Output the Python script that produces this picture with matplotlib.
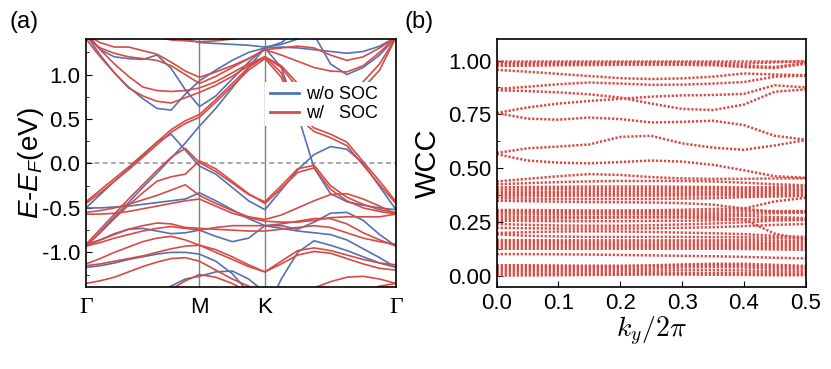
import matplotlib
matplotlib.use("Agg")
import matplotlib.pyplot as plt
from matplotlib.lines import Line2D
from matplotlib.ticker import MultipleLocator

plt.rcParams["font.family"] = ["Liberation Sans", "DejaVu Sans"]
plt.rcParams["mathtext.fontset"] = "custom"
plt.rcParams["mathtext.rm"] = "Liberation Sans"
plt.rcParams["mathtext.it"] = "Liberation Sans:italic"
plt.rcParams["axes.unicode_minus"] = False

# ---- (a) band structure, energies read along the path Γ-M-K-Γ ----
k_path = [0.0, 0.125, 0.25, 0.375, 0.5, 0.625, 0.75, 0.875, 1.0,
          1.144, 1.289, 1.433, 1.577,
          1.721, 1.866, 2.010, 2.155, 2.299, 2.443, 2.588, 2.732]
k_nodes = [0.0, 1.0, 1.577, 2.732]
k_labels = ["Γ", "M", "K", "Γ"]

bands_nosoc = [
    [-0.50, -0.35, -0.20, -0.06, 0.09, 0.24, 0.33, 0.15, -0.03, -0.12, -0.27, -0.42, -0.52, -0.30, -0.07, 0.10, 0.19, 0.16, 0.00, -0.26, -0.52],
    [-0.93, -0.77, -0.60, -0.44, -0.27, -0.11, 0.06, 0.23, 0.42, 0.62, 0.85, 1.08, 1.30, 1.08, 0.55, -0.05, -0.34, -0.43, -0.47, -0.50, -0.52],
    [1.45, 1.22, 1.02, 0.86, 0.73, 0.62, 0.60, 0.78, 0.93, 1.05, 1.16, 1.25, 1.30, 1.36, 1.50, 1.45, 1.12, 1.00, 1.08, 1.22, 1.42],
    [1.48, 1.28, 1.20, 1.18, 1.17, 1.22, 1.07, 0.83, 0.64, 0.76, 0.95, 1.14, 1.30, 1.31, 1.30, 1.28, 1.26, 1.24, 1.26, 1.32, 1.42],
    [1.60, 1.60, 1.60, 1.58, 1.55, 1.50, 1.46, 1.40, 1.36, 1.35, 1.34, 1.33, 1.31, 1.34, 1.40, 1.55, 1.60, 1.60, 1.60, 1.60, 1.60],
    [-0.50, -0.50, -0.49, -0.48, -0.46, -0.44, -0.42, -0.40, -0.33, -0.42, -0.52, -0.62, -0.70, -0.70, -0.74, -0.66, -0.56, -0.55, -0.64, -0.80, -0.93],
    [-0.93, -0.86, -0.79, -0.74, -0.73, -0.76, -0.79, -0.78, -0.75, -0.82, -0.88, -0.84, -0.70, -0.73, -0.76, -0.78, -0.80, -0.86, -0.96, -1.06, -1.17],
    [-1.17, -1.15, -1.12, -1.08, -1.05, -1.02, -1.00, -1.00, -1.02, -1.10, -1.24, -1.45, -1.70, -1.30, -1.00, -0.87, -0.92, -0.98, -1.05, -1.12, -1.17],
    [-1.60, -1.60, -1.58, -1.55, -1.50, -1.45, -1.38, -1.30, -1.27, -1.22, -1.21, -1.30, -1.45, -1.60, -1.60, -1.60, -1.60, -1.55, -1.48, -1.42, -1.40],
]

bands_soc = [
    [-0.43, -0.30, -0.17, -0.04, 0.10, 0.24, 0.38, 0.48, 0.55, 0.72, 0.90, 1.08, 1.20, 1.02, 0.57, 0.40, 0.33, 0.24, 0.02, -0.20, -0.43],
    [-0.45, -0.33, -0.20, -0.07, 0.07, 0.21, 0.35, 0.45, 0.52, 0.69, 0.87, 1.05, 1.18, 0.97, 0.52, 0.36, 0.29, 0.20, -0.02, -0.24, -0.45],
    [-0.91, -0.74, -0.57, -0.40, -0.24, -0.08, 0.07, 0.17, 0.01, -0.09, -0.22, -0.35, -0.43, -0.25, -0.06, -0.02, -0.25, -0.38, -0.46, -0.52, -0.55],
    [-0.93, -0.78, -0.62, -0.47, -0.33, -0.20, -0.15, -0.12, 0.03, -0.06, -0.20, -0.34, -0.45, -0.28, -0.10, -0.05, -0.29, -0.42, -0.50, -0.54, -0.57],
    [-0.55, -0.53, -0.50, -0.46, -0.41, -0.36, -0.30, -0.24, -0.36, -0.45, -0.53, -0.60, -0.63, -0.58, -0.50, -0.42, -0.35, -0.34, -0.40, -0.48, -0.57],
    [-0.57, -0.57, -0.56, -0.54, -0.51, -0.48, -0.45, -0.42, -0.40, -0.48, -0.56, -0.61, -0.65, -0.66, -0.66, -0.64, -0.61, -0.60, -0.60, -0.60, -0.57],
    [-0.91, -0.86, -0.80, -0.74, -0.70, -0.67, -0.68, -0.72, -0.73, -0.74, -0.75, -0.76, -0.76, -0.74, -0.72, -0.70, -0.72, -0.78, -0.84, -0.88, -0.91],
    [-0.93, -0.89, -0.84, -0.80, -0.76, -0.73, -0.71, -0.73, -0.75, -0.72, -0.70, -0.70, -0.70, -0.68, -0.65, -0.62, -0.62, -0.68, -0.78, -0.86, -0.93],
    [-1.13, -1.07, -1.00, -0.94, -0.88, -0.84, -0.82, -0.86, -0.92, -1.00, -1.08, -1.16, -1.22, -1.10, -0.98, -0.95, -0.98, -1.03, -1.08, -1.12, -1.14],
    [-1.15, -1.13, -1.10, -1.07, -1.04, -1.00, -0.96, -0.93, -0.92, -0.97, -1.05, -1.14, -1.22, -1.13, -1.03, -0.99, -1.01, -1.07, -1.13, -1.18, -1.20],
    [-1.35, -1.32, -1.28, -1.22, -1.16, -1.11, -1.07, -1.06, -1.10, -1.20, -1.30, -1.38, -1.45, -1.50, -1.45, -1.40, -1.33, -1.28, -1.27, -1.30, -1.35],
    [-1.60, -1.60, -1.60, -1.60, -1.55, -1.50, -1.42, -1.32, -1.25, -1.28, -1.35, -1.45, -1.55, -1.60, -1.60, -1.60, -1.55, -1.50, -1.45, -1.38, -1.35],
    [1.45, 1.36, 1.31, 1.31, 1.27, 1.23, 1.14, 1.04, 0.97, 1.03, 1.10, 1.18, 1.28, 1.30, 1.32, 1.30, 1.22, 1.16, 1.20, 1.30, 1.42],
    [1.42, 1.30, 1.24, 1.20, 1.18, 1.16, 1.10, 1.00, 0.90, 0.98, 1.08, 1.18, 1.28, 1.22, 1.15, 1.08, 1.04, 1.03, 1.10, 1.25, 1.42],
    [1.45, 1.28, 1.12, 0.98, 0.86, 0.82, 0.81, 0.82, 0.85, 0.92, 1.02, 1.12, 1.20, 1.08, 0.85, 0.68, 0.66, 0.72, 0.85, 1.05, 1.42],
    [1.40, 1.20, 1.02, 0.85, 0.76, 0.70, 0.68, 0.74, 0.80, 0.88, 0.98, 1.10, 1.20, 1.10, 0.90, 0.75, 0.72, 0.78, 0.92, 1.12, 1.42],
    [1.60, 1.60, 1.58, 1.52, 1.46, 1.42, 1.39, 1.38, 1.37, 1.38, 1.40, 1.43, 1.48, 1.50, 1.55, 1.60, 1.60, 1.60, 1.60, 1.60, 1.60],
]

# ---- (b) Wannier charge centres read at a few k_y ----
ky = [0.0, 0.05, 0.10, 0.15, 0.20, 0.25, 0.30, 0.35, 0.40, 0.45, 0.50]
wcc = [
    [0.998, 0.998, 0.998, 0.998, 0.998, 0.998, 0.998, 0.998, 0.998, 0.998, 0.998],
    [0.990, 0.990, 0.991, 0.991, 0.992, 0.992, 0.992, 0.990, 0.985, 0.992, 0.997],
    [0.982, 0.983, 0.984, 0.985, 0.986, 0.986, 0.985, 0.983, 0.975, 0.970, 0.990],
    [0.975, 0.976, 0.978, 0.979, 0.980, 0.980, 0.980, 0.978, 0.970, 0.965, 0.985],
    [0.957, 0.948, 0.938, 0.928, 0.918, 0.914, 0.917, 0.925, 0.940, 0.935, 0.932],
    [0.868, 0.878, 0.890, 0.898, 0.893, 0.887, 0.888, 0.893, 0.900, 0.925, 0.930],
    [0.862, 0.858, 0.852, 0.843, 0.828, 0.800, 0.775, 0.770, 0.795, 0.855, 0.866],
    [0.756, 0.782, 0.800, 0.812, 0.822, 0.832, 0.838, 0.840, 0.845, 0.885, 0.875],
    [0.756, 0.730, 0.725, 0.735, 0.728, 0.712, 0.715, 0.720, 0.700, 0.650, 0.632],
    [0.570, 0.592, 0.600, 0.610, 0.645, 0.650, 0.615, 0.595, 0.585, 0.605, 0.630],
    [0.565, 0.535, 0.525, 0.522, 0.528, 0.535, 0.530, 0.515, 0.490, 0.462, 0.455],
    [0.438, 0.450, 0.462, 0.472, 0.468, 0.458, 0.452, 0.450, 0.450, 0.452, 0.452],
    [0.425, 0.430, 0.435, 0.438, 0.440, 0.440, 0.440, 0.438, 0.432, 0.425, 0.420],
    [0.410, 0.412, 0.413, 0.414, 0.414, 0.414, 0.413, 0.412, 0.410, 0.412, 0.415],
    [0.400, 0.401, 0.402, 0.402, 0.402, 0.402, 0.402, 0.402, 0.402, 0.404, 0.406],
    [0.390, 0.390, 0.390, 0.391, 0.391, 0.391, 0.391, 0.391, 0.392, 0.395, 0.398],
    [0.380, 0.381, 0.381, 0.381, 0.381, 0.381, 0.381, 0.382, 0.383, 0.385, 0.388],
    [0.370, 0.371, 0.371, 0.372, 0.372, 0.372, 0.372, 0.373, 0.374, 0.377, 0.378],
    [0.360, 0.358, 0.357, 0.356, 0.356, 0.356, 0.358, 0.360, 0.365, 0.368, 0.370],
    [0.348, 0.346, 0.344, 0.342, 0.341, 0.340, 0.337, 0.330, 0.312, 0.296, 0.298],
    [0.305, 0.305, 0.304, 0.303, 0.303, 0.304, 0.306, 0.310, 0.312, 0.345, 0.362],
    [0.298, 0.297, 0.297, 0.296, 0.296, 0.296, 0.297, 0.298, 0.300, 0.300, 0.300],
    [0.288, 0.288, 0.287, 0.287, 0.286, 0.286, 0.286, 0.287, 0.288, 0.290, 0.292],
    [0.276, 0.275, 0.275, 0.274, 0.274, 0.274, 0.275, 0.276, 0.278, 0.272, 0.268],
    [0.265, 0.265, 0.266, 0.268, 0.270, 0.270, 0.270, 0.268, 0.262, 0.195, 0.168],
    [0.255, 0.254, 0.253, 0.253, 0.253, 0.254, 0.255, 0.257, 0.262, 0.262, 0.262],
    [0.240, 0.236, 0.233, 0.232, 0.232, 0.234, 0.238, 0.242, 0.248, 0.256, 0.258],
    [0.222, 0.220, 0.219, 0.219, 0.219, 0.220, 0.222, 0.225, 0.230, 0.236, 0.240],
    [0.198, 0.202, 0.205, 0.206, 0.205, 0.203, 0.200, 0.197, 0.193, 0.185, 0.180],
    [0.192, 0.185, 0.182, 0.180, 0.180, 0.180, 0.180, 0.179, 0.178, 0.175, 0.172],
    [0.165, 0.165, 0.164, 0.164, 0.164, 0.164, 0.164, 0.164, 0.165, 0.163, 0.160],
    [0.155, 0.155, 0.155, 0.154, 0.154, 0.154, 0.154, 0.154, 0.154, 0.152, 0.150],
    [0.145, 0.145, 0.145, 0.145, 0.144, 0.144, 0.144, 0.144, 0.144, 0.142, 0.140],
    [0.135, 0.135, 0.135, 0.135, 0.135, 0.135, 0.135, 0.135, 0.134, 0.132, 0.130],
    [0.125, 0.125, 0.125, 0.125, 0.125, 0.125, 0.125, 0.125, 0.124, 0.122, 0.120],
    [0.100, 0.100, 0.099, 0.098, 0.096, 0.094, 0.092, 0.090, 0.087, 0.083, 0.080],
    [0.048, 0.048, 0.047, 0.046, 0.046, 0.048, 0.052, 0.055, 0.055, 0.050, 0.045],
    [0.040, 0.040, 0.040, 0.040, 0.041, 0.044, 0.048, 0.050, 0.048, 0.042, 0.038],
    [0.030, 0.030, 0.030, 0.030, 0.031, 0.033, 0.038, 0.040, 0.038, 0.032, 0.028],
    [0.020, 0.020, 0.020, 0.020, 0.020, 0.022, 0.025, 0.026, 0.024, 0.020, 0.018],
    [0.010, 0.010, 0.010, 0.010, 0.010, 0.011, 0.012, 0.012, 0.011, 0.010, 0.008],
    [0.000, 0.001, 0.002, 0.003, 0.004, 0.005, 0.005, 0.004, 0.003, 0.002, 0.002],
]

blue = "#5471b3"
red = "#d64b45"

fig = plt.figure(figsize=(8.31, 3.69), dpi=100)
ax1 = fig.add_axes([0.1035, 0.2222, 0.373, 0.672])
ax2 = fig.add_axes([0.5977, 0.2222, 0.3718, 0.672])

# panel (a)
for e in bands_nosoc:
    ax1.plot(k_path, e, color=blue, lw=1.2, solid_joinstyle="round")
for e in bands_soc:
    ax1.plot(k_path, e, color=red, lw=1.2, solid_joinstyle="round")
for kn in k_nodes[1:3]:
    ax1.axvline(kn, color="#808080", lw=1.0, zorder=0)
ax1.axhline(0, color="#9a9a9a", lw=1.2, ls=(0, (3, 2)), zorder=0)
ax1.set_xlim(k_nodes[0], k_nodes[-1])
ax1.set_ylim(-1.39, 1.40)
ax1.set_xticks(k_nodes)
ax1.set_xticklabels(k_labels, fontsize=16)
for lab in (ax1.get_xticklabels()[0], ax1.get_xticklabels()[-1]):
    lab.set_fontfamily("Liberation Serif")
    lab.set_fontsize(17)
ax1.tick_params(axis="x", length=0, pad=7)
ax1.yaxis.set_major_locator(MultipleLocator(0.5))
ax1.yaxis.set_minor_locator(MultipleLocator(0.25))
ax1.tick_params(axis="y", which="both", direction="in", labelsize=16, pad=4)
ax1.tick_params(axis="y", which="major", length=4)
ax1.tick_params(axis="y", which="minor", length=2)
ax1.set_ylabel(r"$E$-$E_F$(eV)", fontsize=20, labelpad=-3, math_fontfamily="custom")

leg_handles = [Line2D([0], [0], color=blue, lw=2),
               Line2D([0], [0], color=red, lw=2)]
leg = ax1.legend(leg_handles, ["w/o SOC", "w/   SOC"], loc="upper right",
                 bbox_to_anchor=(0.985, 0.865), fontsize=13, frameon=True,
                 fancybox=False, framealpha=1, edgecolor="none",
                 handlelength=1.6, handletextpad=0.4, labelspacing=0.1,
                 borderpad=0.25)

# panel (b)
for w in wcc:
    ax2.plot(ky, w, color=red, lw=1.8, ls=(0, (0.9, 0.7)))
ax2.set_xlim(0, 0.5)
ax2.set_ylim(-0.053, 1.10)
ax2.xaxis.set_major_locator(MultipleLocator(0.1))
ax2.yaxis.set_major_locator(MultipleLocator(0.25))
ax2.yaxis.set_minor_locator(MultipleLocator(0.125))
ax2.set_yticks([0.0, 0.25, 0.5, 0.75, 1.0])
ax2.set_yticklabels(["0.00", "0.25", "0.50", "0.75", "1.00"])
ax2.tick_params(which="both", direction="in", labelsize=16, pad=4)
ax2.tick_params(which="major", length=4)
ax2.tick_params(which="minor", length=2)
ax2.set_ylabel("WCC", fontsize=21, labelpad=4)
ax2.set_xlabel(r"$k_y/2\pi$", fontsize=20, labelpad=1, math_fontfamily="cm")

for ax in (ax1, ax2):
    for sp in ax.spines.values():
        sp.set_linewidth(1.2)

fig.text(0.012, 0.925, "(a)", fontsize=17)
fig.text(0.487, 0.925, "(b)", fontsize=17)

fig.savefig("out.png", dpi=100)
